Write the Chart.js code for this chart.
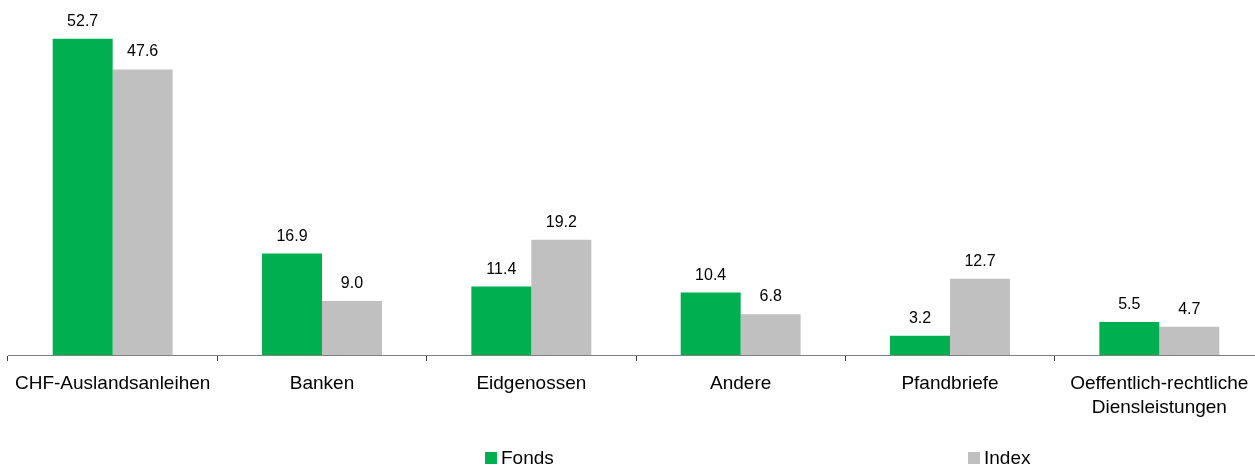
<!DOCTYPE html>
<html>
<head>
<meta charset="utf-8">
<script src="https://cdn.jsdelivr.net/npm/chart.js@4"></script>
<style>
html,body{margin:0;padding:0;background:#fff;}
canvas{display:block;}
</style>
</head>
<body>
<canvas id="c" width="1255" height="467"></canvas>
<script>
const categories = ["CHF-Auslandsanleihen", "Banken", "Eidgenossen", "Andere", "Pfandbriefe", ["Oeffentlich-rechtliche", "Diensleistungen"]];
const fondsValues = [52.7, 16.9, 11.4, 10.4, 3.2, 5.5];
const indexValues = [47.6, 9.0, 19.2, 6.8, 12.7, 4.7];
const seriesNames = ["Fonds", "Index"];
const seriesColors = ["#00b050", "#c0c0c0"];

const FONT = "'Liberation Sans', Arial, sans-serif";

// the category axis in the reference runs slightly past the right edge of the canvas
const extendAxis = {
  id: 'extendAxis',
  afterLayout(chart) {
    const s = chart.scales.x;
    s.right = s.right + 9;
    s.width = s.right - s.left;
    s.configure();
  }
};

const valueLabels = {
  id: 'valueLabels',
  afterDatasetsDraw(chart) {
    const ctx = chart.ctx;
    ctx.save();
    ctx.font = "16px " + FONT;
    ctx.fillStyle = "#000";
    ctx.textAlign = "center";
    ctx.textBaseline = "alphabetic";
    chart.data.datasets.forEach((ds, i) => {
      const meta = chart.getDatasetMeta(i);
      meta.data.forEach((bar, j) => {
        ctx.fillText(ds.data[j].toFixed(1), bar.x, bar.y - 13);
      });
    });
    ctx.restore();
  }
};

const customLegend = {
  id: 'customLegend',
  afterDraw(chart) {
    const ctx = chart.ctx;
    const xs = [485, 968];
    ctx.save();
    ctx.font = "19px " + FONT;
    ctx.textBaseline = "middle";
    ctx.textAlign = "left";
    chart.data.datasets.forEach((ds, i) => {
      ctx.fillStyle = ds.backgroundColor;
      ctx.fillRect(xs[i], 452, 12, 12);
      ctx.fillStyle = "#000";
      ctx.fillText(ds.label, xs[i] + 16, 459);
    });
    ctx.restore();
  }
};

new Chart(document.getElementById('c'), {
  type: 'bar',
  data: {
    labels: categories,
    datasets: [
      { label: seriesNames[0], data: fondsValues, backgroundColor: seriesColors[0] },
      { label: seriesNames[1], data: indexValues, backgroundColor: seriesColors[1] }
    ]
  },
  options: {
    responsive: false,
    animation: false,
    devicePixelRatio: 1,
    layout: { padding: { left: 8, right: 0, top: 25, bottom: 0 } },
    datasets: { bar: { categoryPercentage: 0.573, barPercentage: 1.0 } },
    plugins: { legend: { display: false }, tooltip: { enabled: false } },
    scales: {
      y: { display: false, min: 0, max: 55 },
      x: {
        afterFit(scale) { scale.height = 112; },
        border: { display: true, color: "#808080", width: 1 },
        grid: { offset: true, drawOnChartArea: false, drawTicks: true, tickLength: 6, color: "#404040" },
        ticks: { color: "#000", padding: 10, maxRotation: 0, autoSkip: false, font: { family: FONT, size: 19, lineHeight: 1.3 } }
      }
    }
  },
  plugins: [extendAxis, valueLabels, customLegend]
});
</script>
</body>
</html>
